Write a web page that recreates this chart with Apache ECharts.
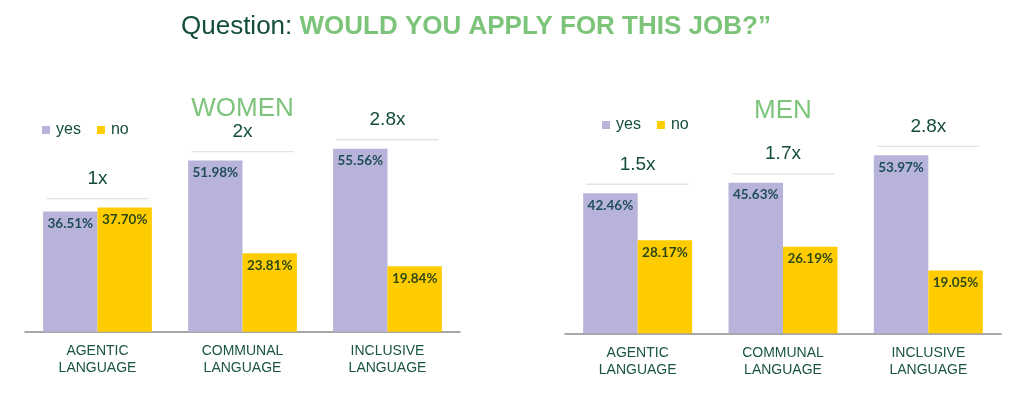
<!DOCTYPE html>
<html>
<head>
<meta charset="utf-8">
<script src="https://cdn.jsdelivr.net/npm/echarts@6/dist/echarts.min.js"></script>
<style>
html,body{margin:0;padding:0;background:#fff;}
#chart{width:1024px;height:393px;}
</style>
</head>
<body>
<div id="chart"></div>
<script>
const categories = ["AGENTIC\nLANGUAGE", "COMMUNAL\nLANGUAGE", "INCLUSIVE\nLANGUAGE"];
const seriesNames = ["yes", "no"];
const womenYes = [36.51, 51.98, 55.56];
const womenNo = [37.70, 23.81, 19.84];
const menYes = [42.46, 45.63, 53.97];
const menNo = [28.17, 26.19, 19.05];
const womenRatios = ["1x", "2x", "2.8x"];
const menRatios = ["1.5x", "1.7x", "2.8x"];
const panelTitles = ["WOMEN", "MEN"];
const mainTitleA = "Question: ";
const mainTitleB = "WOULD YOU APPLY FOR THIS JOB?\u201d";

const YES_COLOR = '#b8b3da';
const NO_COLOR = '#ffcc00';
const DARK = '#134d3d';
const LIGHT_GREEN = '#7cc47a';
const BRACKET_OFFSET = 2.7;
const SANS = '"Liberation Sans", Arial, sans-serif';

function ratioSeries(idx, yes, no, ratios) {
  return {
    type: 'custom',
    xAxisIndex: idx, yAxisIndex: idx,
    clip: false, silent: true,
    data: yes.map((v, i) => [i, Math.max(v, no[i]) + BRACKET_OFFSET]),
    renderItem: function (params, api) {
      const c = api.coord([api.value(0), api.value(1)]);
      const bw = api.size([1, 0])[0];
      const half = bw * 0.352;
      return {
        type: 'group',
        children: [
          { type: 'line', shape: { x1: c[0] - half, y1: c[1], x2: c[0] + half, y2: c[1] },
            style: { stroke: '#dfe4ea', lineWidth: 1.3 } },
          { type: 'text', x: c[0], y: c[1] - 20,
            style: { text: ratios[params.dataIndex], fill: DARK, font: '19px ' + SANS,
                     align: 'center', verticalAlign: 'middle' } }
        ]
      };
    }
  };
}

function barSeries(idx, name, values, color, labelColor) {
  return {
    type: 'bar', name: name,
    xAxisIndex: idx, yAxisIndex: idx,
    data: values,
    barGap: '0%', barCategoryGap: '25%',
    itemStyle: { color: color },
    label: {
      show: true, position: 'insideTop', distance: 5,
      formatter: p => p.value.toFixed(2) + '%',
      color: labelColor, fontFamily: 'Lato, "Open Sans", sans-serif', fontWeight: 'bold', fontSize: 13.5
    }
  };
}

const xAxisBase = {
  type: 'category', data: categories,
  axisLine: { lineStyle: { color: '#8a8a8a', width: 1.5 } },
  axisTick: { show: false },
  axisLabel: { color: '#1a5444', fontSize: 14, fontFamily: SANS, lineHeight: 17, margin: 11 }
};
const yAxisBase = { type: 'value', min: 0, max: 60, show: false, splitLine: { show: false } };

const legendBase = {
  data: seriesNames, icon: 'rect', itemWidth: 8, itemHeight: 8, itemGap: 16,
  textStyle: { color: DARK, fontSize: 16, fontFamily: SANS, padding: [0, 0, 0, 1] }
};

const chart = echarts.init(document.getElementById('chart'), null, { renderer: 'canvas' });
chart.setOption({
  animation: false,
  backgroundColor: '#ffffff',
  title: {
    text: '{a|' + mainTitleA + '}{b|' + mainTitleB + '}',
    left: 176, top: 9,
    textStyle: {
      rich: {
        a: { color: DARK, fontSize: 26, fontWeight: 'normal', fontFamily: SANS },
        b: { color: LIGHT_GREEN, fontSize: 26, fontWeight: 'bold', fontFamily: SANS }
      }
    }
  },
  graphic: [
    { type: 'text', x: 242.5, y: 109, style: { text: panelTitles[0], fill: LIGHT_GREEN, font: '26px ' + SANS, align: 'center', verticalAlign: 'middle' } },
    { type: 'text', x: 783, y: 110.5, style: { text: panelTitles[1], fill: LIGHT_GREEN, font: '26px ' + SANS, align: 'center', verticalAlign: 'middle' } }
  ],
  legend: [
    Object.assign({ left: 37, top: 117 }, legendBase),
    Object.assign({ left: 597, top: 112 }, legendBase)
  ],
  grid: [
    { left: 25, width: 435, top: 134, height: 197.7 },
    { left: 565, width: 436, top: 135.3, height: 198 }
  ],
  xAxis: [
    Object.assign({ gridIndex: 0 }, xAxisBase),
    Object.assign({ gridIndex: 1 }, xAxisBase)
  ],
  yAxis: [
    Object.assign({ gridIndex: 0 }, yAxisBase),
    Object.assign({ gridIndex: 1 }, yAxisBase)
  ],
  series: [
    barSeries(0, seriesNames[0], womenYes, YES_COLOR, '#1f4d58'),
    barSeries(0, seriesNames[1], womenNo, NO_COLOR, '#2e4a14'),
    barSeries(1, seriesNames[0], menYes, YES_COLOR, '#1f4d58'),
    barSeries(1, seriesNames[1], menNo, NO_COLOR, '#2e4a14'),
    ratioSeries(0, womenYes, womenNo, womenRatios),
    ratioSeries(1, menYes, menNo, menRatios)
  ]
});
</script>
</body>
</html>
